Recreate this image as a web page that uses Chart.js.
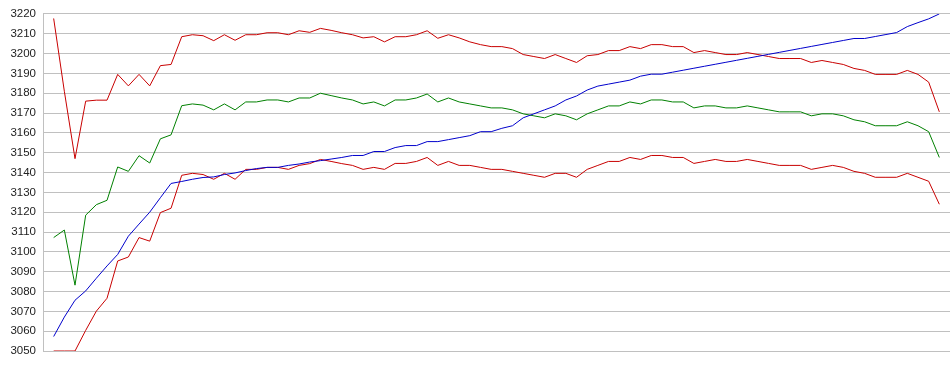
<!DOCTYPE html>
<html>
<head>
<meta charset="utf-8">
<script src="https://cdn.jsdelivr.net/npm/chart.js@4/dist/chart.umd.min.js"></script>
<style>
html,body{margin:0;padding:0;background:#fff;}
#wrap{width:950px;height:375px;position:relative;}
</style>
</head>
<body>
<div id="wrap"><canvas id="c" width="950" height="375"></canvas></div>
<script>
const yTicks = [3050,3060,3070,3080,3090,3100,3110,3120,3130,3140,3150,3160,3170,3180,3190,3200,3210,3220];

const upperBand = [3217.7,3181,3147,3176,3176.5,3176.5,3189.5,3183.7,3189.5,3183.7,
3193.9,3194.5,3208.5,3209.5,3209,3206.5,3209.5,3206.7,3209.5,3209.5,
3210.5,3210.5,3209.5,3211.5,3210.7,3212.7,3211.7,3210.5,3209.5,3207.9,
3208.5,3205.9,3208.5,3208.5,3209.5,3211.5,3207.7,3209.5,3207.9,3205.9,
3204.5,3203.5,3203.5,3202.5,3199.5,3198.5,3197.5,3199.5,3197.5,3195.5,
3198.9,3199.5,3201.5,3201.5,3203.5,3202.5,3204.5,3204.5,3203.5,3203.5,
3200.5,3201.5,3200.5,3199.5,3199.5,3200.5,3199.5,3198.5,3197.5,3197.5,
3197.5,3195.5,3196.5,3195.5,3194.5,3192.5,3191.5,3189.5,3189.5,3189.5,
3191.5,3189.5,3185.6,3170.6];

const middleLine = [3107.2,3111,3083.2,3118.5,3123.8,3126,3142.8,3140.6,3148.5,3144.8,
3157,3159,3173.7,3174.6,3174,3171.6,3174.6,3171.6,3175.6,3175.6,
3176.6,3176.6,3175.6,3177.6,3177.6,3180,3178.8,3177.6,3176.6,3174.6,
3175.6,3173.6,3176.6,3176.6,3177.6,3179.6,3175.6,3177.6,3175.6,3174.6,
3173.6,3172.6,3172.6,3171.6,3169.6,3168.6,3167.6,3169.6,3168.6,3166.6,
3169.6,3171.6,3173.6,3173.6,3175.6,3174.6,3176.6,3176.6,3175.6,3175.6,
3172.6,3173.6,3173.6,3172.6,3172.6,3173.6,3172.6,3171.6,3170.6,3170.6,
3170.6,3168.6,3169.6,3169.6,3168.6,3166.6,3165.6,3163.6,3163.6,3163.6,
3165.6,3163.6,3160.6,3147.6];

const lowerBand = [3050,3050,3050,3060.4,3070.1,3076.6,3095.4,3097.4,3107.2,3105.4,
3119.8,3122,3138.6,3139.6,3139,3136.6,3139.6,3136.6,3141.6,3141.6,
3142.6,3142.6,3141.6,3143.6,3144.5,3146.6,3145.6,3144.5,3143.6,3141.6,
3142.6,3141.6,3144.6,3144.6,3145.6,3147.6,3143.6,3145.6,3143.6,3143.6,
3142.6,3141.6,3141.6,3140.6,3139.6,3138.6,3137.6,3139.6,3139.6,3137.6,
3141.6,3143.6,3145.6,3145.6,3147.6,3146.6,3148.6,3148.6,3147.6,3147.6,
3144.6,3145.6,3146.6,3145.6,3145.6,3146.6,3145.6,3144.6,3143.6,3143.6,
3143.6,3141.6,3142.6,3143.6,3142.6,3140.6,3139.6,3137.6,3137.6,3137.6,
3139.6,3137.6,3135.6,3124];

const blueLine = [3057.3,3067.1,3075.6,3080.3,3086.7,3092.9,3098.7,3107.9,3114,3120,
3127.3,3134.5,3135.5,3136.6,3137.5,3137.8,3139,3139.8,3141,3142,
3142.6,3142.6,3143.6,3144.3,3145.3,3146,3146.8,3147.6,3148.6,3148.6,
3150.6,3150.6,3152.6,3153.6,3153.6,3155.6,3155.6,3156.6,3157.6,3158.6,
3160.6,3160.6,3162.3,3163.6,3167.6,3169.6,3171.6,3173.6,3176.6,3178.6,
3181.6,3183.6,3184.6,3185.6,3186.6,3188.6,3189.6,3189.6,3190.6,3191.6,
3192.6,3193.6,3194.6,3195.6,3196.6,3197.6,3198.6,3199.6,3200.6,3201.6,
3202.6,3203.6,3204.6,3205.6,3206.6,3207.6,3207.6,3208.6,3209.6,3210.6,
3213.6,3215.6,3217.5,3220];

const toPts = arr => arr.map((v,i)=>({x:i,y:v}));
const mk = (data,color) => ({data:toPts(data),borderColor:color,borderWidth:1,pointRadius:0,tension:0,fill:false});

new Chart(document.getElementById('c'),{
  type:'line',
  data:{datasets:[
    mk(blueLine,'#0000cc'),
    mk(lowerBand,'#c80000'),
    mk(middleLine,'#008000'),
    mk(upperBand,'#c80000')
  ]},
  options:{
    responsive:false,
    animation:false,
    events:[],
    layout:{padding:{top:10,bottom:24,left:0,right:0}},
    plugins:{legend:{display:false},tooltip:{enabled:false}},
    scales:{
      x:{type:'linear',min:-1,max:84,display:false},
      y:{
        min:3050,max:3220,
        afterBuildTicks:(s)=>{s.ticks=yTicks.map(v=>({value:v}));},
        afterFit:(s)=>{s.width=43;},
        grid:{color:'#c0c0c0',lineWidth:1,drawTicks:false},
        border:{display:true,color:'#c0c0c0',width:1},
        ticks:{color:'#222',padding:7,callback:(v)=>String(v),font:{family:'"Liberation Sans", Arial, sans-serif',size:11.5}}
      }
    }
  }
});
</script>
</body>
</html>
